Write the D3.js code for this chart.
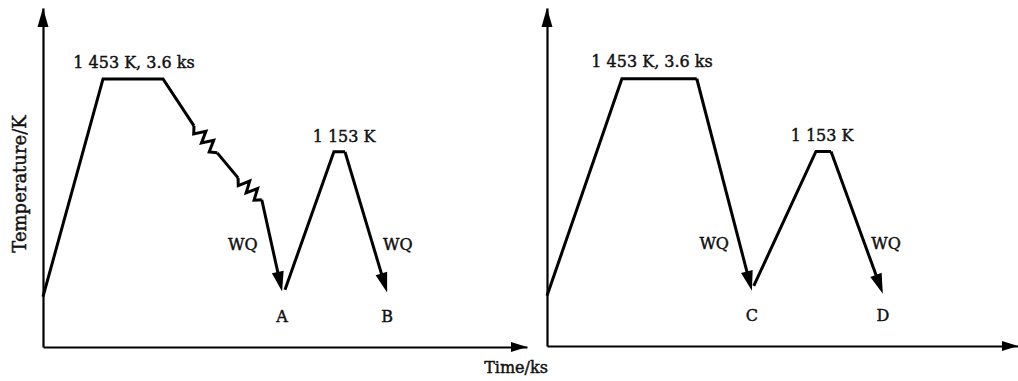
<!DOCTYPE html>
<html><head><meta charset="utf-8">
<script src="https://cdn.jsdelivr.net/npm/d3@7"></script>
<style>
body{margin:0;background:#fff}
text{font-family:"DejaVu Serif",serif;fill:#111;stroke:#111;stroke-width:0.45px}
</style></head>
<body><svg id="chart" width="1018" height="381"></svg>
<script>
// ---- data (schematic heat-treatment schedules; time in arbitrary units 0-100, temperature in K) ----
// Left panel (routes A, B)
const leftHeatTime   = [0, 12.4, 24.8, 31.2];
const leftHeatTemp   = [557, 1453, 1453, 1260];
const leftSlowTime   = [31.2, 36.0, 40.3, 45.2];      // furnace-cooling with two zig-zag (hold) stages
const leftSlowTemp   = [1260, 1149, 1046, 956];
const leftSlowKinds  = ["zig", "line", "zig"];
const leftQ1Time     = [45.2, 49.4];                  // WQ to A
const leftQ1Temp     = [956, 578];
const leftReheatTime = [50.0, 60.1, 62.4];
const leftReheatTemp = [586, 1153, 1153];
const leftQ2Time     = [62.4, 71.1];                  // WQ to B
const leftQ2Temp     = [1153, 574];

// Right panel (routes C, D)
const rightHeatTime   = [0, 15.9, 31.8];
const rightHeatTemp   = [557, 1453, 1453];
const rightQ1Time     = [31.8, 43.5];                 // WQ to C
const rightQ1Temp     = [1453, 578];
const rightReheatTime = [43.9, 57.1, 60.3];
const rightReheatTemp = [598, 1153, 1153];
const rightQ2Time     = [60.3, 71.3];                 // WQ to D
const rightQ2Temp     = [1153, 566];

// annotations
const leftLabels  = ["1 453 K, 3.6 ks", "1 153 K", "WQ", "WQ", "A", "B"];
const leftLabelT  = [18.8, 62.2, 41.3, 73.3, 49.4, 71.1];
const leftLabelK  = [1500, 1195, 750, 750, 454, 454];
const rightLabels = ["1 453 K, 3.6 ks", "1 153 K", "WQ", "WQ", "C", "D"];
const rightLabelT = [22.3, 58.4, 35.5, 72.0, 43.5, 71.3];
const rightLabelK = [1500, 1195, 750, 750, 454, 454];
const xTitle = "Time/ks";
const yTitle = "Temperature/K";

// ---- drawing ----
const svg = d3.select("#chart");
const tempDomain = [350, 1745];

function arrowHead(g, x1, y1, x2, y2, len, half) {
  const a = Math.atan2(y2 - y1, x2 - x1);
  const bx = x2 - len * Math.cos(a), by = y2 - len * Math.sin(a);
  const px = -Math.sin(a) * half, py = Math.cos(a) * half;
  g.append("path")
    .attr("d", `M${x2},${y2}L${bx + px},${by + py}L${bx - px},${by - py}Z`)
    .attr("fill", "#000");
  return [bx + Math.cos(a) * 2, by + Math.sin(a) * 2];
}

function zigzag(x1, y1, x2, y2) {
  // decorative spring glyph between two data points
  const dx = x2 - x1, dy = y2 - y1, L = Math.hypot(dx, dy);
  const ux = dx / L, uy = dy / L, nx = -uy, ny = ux;
  const n = 6, amp = 5.5;
  const pts = [[x1, y1]];
  for (let i = 1; i < n; i++) {
    const s = i / n, o = (i % 2 ? 1 : -1) * amp;
    pts.push([x1 + dx * s + nx * o, y1 + dy * s + ny * o]);
  }
  pts.push([x2, y2]);
  return d3.line()(pts);
}

function panel(cfg) {
  const g = svg.append("g");
  const x = d3.scaleLinear().domain([0, 100]).range([cfg.x0, cfg.x1]);
  const y = d3.scaleLinear().domain(tempDomain).range([cfg.yBase, cfg.yTop]);

  // axes (no ticks) via d3.axis
  g.append("g").attr("transform", `translate(0,${cfg.yBase})`)
    .call(d3.axisBottom(x).tickValues([]).tickSizeOuter(0));
  g.append("g").attr("transform", `translate(${cfg.x0},0)`)
    .call(d3.axisLeft(y).tickValues([]).tickSizeOuter(0));
  g.selectAll(".domain").attr("stroke", "#000").attr("stroke-width", 2.2);
  arrowHead(g, cfg.x0, cfg.yBase, cfg.x1, cfg.yBase, 16, 5);
  arrowHead(g, cfg.x0, cfg.yBase, cfg.x0, cfg.yTop, 19, 5.5);

  const line = d3.line().x(d => x(d[0])).y(d => y(d[1]));
  const stroke = l => l.attr("fill", "none").attr("stroke", "#000")
    .attr("stroke-width", 3).attr("stroke-linejoin", "miter").attr("stroke-linecap", "butt");

  cfg.polylines.forEach(([ts, ks]) => {
    g.append("path").datum(d3.zip(ts, ks)).attr("d", line).call(stroke);
  });
  if (cfg.slow) {
    const [ts, ks, kinds] = cfg.slow;
    kinds.forEach((k, i) => {
      const xa = x(ts[i]), ya = y(ks[i]), xb = x(ts[i + 1]), yb = y(ks[i + 1]);
      g.append("path").attr("d", k === "zig" ? zigzag(xa, ya, xb, yb) : d3.line()([[xa, ya], [xb, yb]]))
        .call(stroke);
    });
  }
  cfg.arrows.forEach(([ts, ks]) => {
    const xa = x(ts[0]), ya = y(ks[0]), xb = x(ts[1]), yb = y(ks[1]);
    const base = arrowHead(g, xa, ya, xb, yb, 20, 6);
    g.append("path").attr("d", d3.line()([[xa, ya], base])).call(stroke);
  });
  g.selectAll("text.lab").data(d3.zip(cfg.labels, cfg.labelT, cfg.labelK)).join("text")
    .attr("class", "lab")
    .attr("x", d => x(d[1])).attr("y", d => y(d[2]))
    .attr("text-anchor", "middle").attr("font-size", 16)
    .text(d => d[0]);
  return { x, y };
}

panel({
  x0: 43, x1: 527, yBase: 347, yTop: 8,
  polylines: [[leftHeatTime, leftHeatTemp], [leftReheatTime, leftReheatTemp]],
  slow: [leftSlowTime, leftSlowTemp, leftSlowKinds],
  arrows: [[leftQ1Time, leftQ1Temp], [leftQ2Time, leftQ2Temp]],
  labels: leftLabels, labelT: leftLabelT, labelK: leftLabelK
});
panel({
  x0: 547, x1: 1018, yBase: 346, yTop: 8,
  polylines: [[rightHeatTime, rightHeatTemp], [rightReheatTime, rightReheatTemp]],
  arrows: [[rightQ1Time, rightQ1Temp], [rightQ2Time, rightQ2Temp]],
  labels: rightLabels, labelT: rightLabelT, labelK: rightLabelK
});

svg.append("text").attr("x", 516).attr("y", 373).attr("text-anchor", "middle")
  .attr("font-size", 16).text(xTitle);
svg.append("text").attr("transform", "translate(26,184) rotate(-90)")
  .attr("text-anchor", "middle").attr("font-size", 18).text(yTitle);
</script>
</body></html>
